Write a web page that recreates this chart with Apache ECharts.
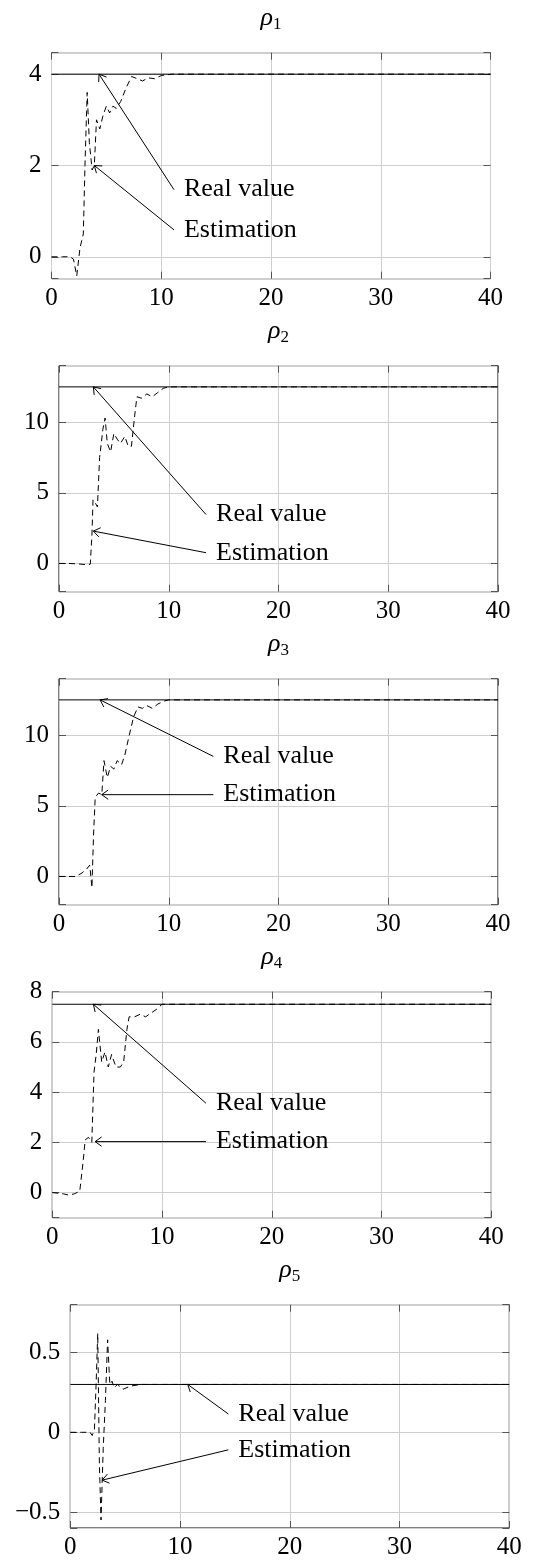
<!DOCTYPE html>
<html><head><meta charset="utf-8">
<script src="https://cdn.jsdelivr.net/npm/echarts@6/dist/echarts.min.js"></script>
<style>html,body{margin:0;padding:0;background:#fff}#c{width:540px;height:1560px}</style>
</head><body><div id="c"></div>
<script>
// ---------- data ----------
const subscripts = ['1', '2', '3', '4', '5'];
const realValues = [4, 12.5, 12.5, 7.5, 0.3];
const xRange = [0, 40];

const t1 = [0, 1.0, 1.7, 2.0, 2.3, 2.6, 2.9, 3.05, 3.25, 3.45, 3.7, 3.9, 4.1, 4.4, 4.7, 5.0, 5.3, 5.6, 5.9, 6.3, 6.8, 7.3, 7.8, 8.3, 8.8, 9.4, 10, 11, 12, 40];
const est1 = [0, 0, 0, -0.05, -0.42, 0.2, 0.5, 2.0, 3.6, 2.5, 1.9, 2.0, 3.0, 2.8, 3.1, 3.3, 3.15, 3.3, 3.25, 3.4, 3.7, 3.95, 3.9, 3.85, 3.92, 3.9, 3.97, 4.0, 4.0, 4.0];

const t2 = [0, 1, 2, 2.6, 2.85, 3.0, 3.1, 3.3, 3.5, 3.7, 4.0, 4.2, 4.4, 4.7, 5.0, 5.3, 5.6, 6.0, 6.3, 6.6, 6.9, 7.1, 7.5, 8.0, 8.5, 9.0, 9.5, 10, 40];
const est2 = [0, 0, -0.05, -0.1, -0.05, 2.0, 4.5, 4.3, 4.0, 7.5, 9.5, 10.3, 8.5, 7.9, 9.2, 8.8, 8.5, 9.0, 8.3, 8.3, 10.5, 11.8, 11.7, 12.0, 11.8, 12.1, 12.4, 12.5, 12.5];

const t3 = [0, 1.5, 2.0, 2.5, 2.8, 3.0, 3.15, 3.3, 3.6, 3.9, 4.1, 4.4, 4.7, 5.0, 5.3, 5.7, 6.0, 6.4, 6.8, 7.2, 7.6, 8.0, 8.5, 9.0, 9.5, 10, 40];
const est3 = [0, 0, 0.2, 0.5, 0.8, -0.8, 3.0, 5.6, 5.9, 5.8, 8.2, 7.0, 7.8, 7.6, 8.2, 7.9, 8.6, 10.0, 11.3, 12.0, 11.9, 12.1, 11.9, 12.2, 12.4, 12.5, 12.5];

const t4 = [0, 1.0, 1.5, 2.0, 2.5, 2.8, 3.0, 3.3, 3.6, 3.8, 4.0, 4.2, 4.5, 4.8, 5.1, 5.4, 5.8, 6.2, 6.5, 6.8, 7.0, 7.5, 8.0, 8.5, 9.0, 9.5, 10, 40];
const est4 = [0, -0.05, -0.1, -0.05, 0.05, 1.2, 2.1, 2.2, 2.0, 4.8, 5.5, 6.5, 5.2, 5.6, 5.0, 5.5, 5.0, 5.0, 5.2, 6.5, 7.0, 7.0, 7.1, 7.0, 7.15, 7.3, 7.5, 7.5];

const t5 = [0, 1.0, 1.8, 2.0, 2.2, 2.35, 2.5, 2.65, 2.8, 3.0, 3.2, 3.4, 3.6, 3.8, 4.0, 4.3, 4.8, 5.5, 6.5, 8, 40];
const est5 = [0, 0, 0, -0.02, 0.02, 0.3, 0.62, -0.2, -0.55, -0.1, 0.2, 0.58, 0.3, 0.32, 0.28, 0.3, 0.27, 0.29, 0.3, 0.3, 0.3];

// y-axis ranges and labelled tick step per panel
const yMins = [-0.48, -2, -2, -1, -0.6];
const yMaxs = [4.47, 14, 14, 8, 0.8];
const yTickSteps = [2, 5, 5, 2, 0.5];

// annotation labels and [textX, textY, targetX, targetY] in data coordinates
const annLabels = ['Real value', 'Estimation'];
const annReal = [[11.16, 1.47, 4.33, 4.0], [13.4, 3.46, 3.13, 12.5], [14.06, 8.5, 3.74, 12.5], [14.0, 3.56, 3.74, 7.5], [14.4, 0.115, 10.7, 0.3]];
const annEst = [[11.16, 0.59, 3.9, 2.0], [13.4, 0.76, 3.13, 2.29], [14.06, 5.79, 3.89, 5.79], [14.0, 2.03, 3.9, 2.03], [14.4, -0.11, 2.9, -0.3]];

const times = [t1, t2, t3, t4, t5];
const ests = [est1, est2, est3, est4, est5];

// ---------- layout ----------
const PW = 439, PH = 226;
const layout = [
  { left: 51.5, top: 52.7 },
  { left: 59, top: 365.7 },
  { left: 59, top: 678.7 },
  { left: 52.3, top: 991.7 },
  { left: 70.3, top: 1304.7 }
];
const SERIF = "'Liberation Serif', 'Times New Roman', serif";

const grids = [], xAxes = [], yAxes = [], series = [], graphics = [];
const tickStyle = { inside: true, length: 7, lineStyle: { color: '#555', width: 1 } };
const noLine = { show: false, onZero: false };

layout.forEach((L, i) => {
  const step = yTickSteps[i];
  const span = yMaxs[i] - yMins[i];
  const split = Math.round(span / step);
  const yfmt = v => {
    const k = v / step;
    if (Math.abs(k - Math.round(k)) > 1e-6) return '';
    return String(Math.round(k) * step).replace('-', '\u2212');
  };
  grids.push({ left: L.left, top: L.top, width: PW, height: PH, show: true, borderColor: '#000', borderWidth: 1, backgroundColor: 'transparent' });
  xAxes.push({
    type: 'value', gridIndex: i, min: xRange[0], max: xRange[1], interval: 10, position: 'bottom',
    axisLine: noLine, axisTick: tickStyle,
    axisLabel: { color: '#000', fontFamily: SERIF, fontSize: 25, margin: 7, showMinLabel: true, showMaxLabel: true },
    splitLine: { show: true, lineStyle: { color: '#cfcfcf', width: 1 } }
  });
  xAxes.push({
    type: 'value', gridIndex: i, min: xRange[0], max: xRange[1], interval: 10, position: 'top',
    axisLine: noLine, axisTick: tickStyle, axisLabel: { show: false }, splitLine: { show: false }
  });
  yAxes.push({
    type: 'value', gridIndex: i, min: yMins[i], max: yMaxs[i], splitNumber: split, position: 'left',
    axisLine: noLine, axisTick: tickStyle,
    axisLabel: { color: '#000', fontFamily: SERIF, fontSize: 25, margin: 10, showMinLabel: true, showMaxLabel: true, formatter: yfmt },
    splitLine: { show: true, lineStyle: { color: '#cfcfcf', width: 1 } }
  });
  yAxes.push({
    type: 'value', gridIndex: i, min: yMins[i], max: yMaxs[i], splitNumber: split, position: 'right',
    axisLine: noLine, axisTick: tickStyle, axisLabel: { show: false }, splitLine: { show: false }
  });

  const xi = 2 * i, yi = 2 * i;
  series.push({
    type: 'line', xAxisIndex: xi, yAxisIndex: yi, symbol: 'none', silent: true, z: 3,
    data: [[xRange[0], realValues[i]], [xRange[1], realValues[i]]],
    lineStyle: { color: '#000', width: 1 }
  });
  series.push({
    type: 'line', xAxisIndex: xi, yAxisIndex: yi, symbol: 'none', silent: true, clip: false, z: 4,
    data: times[i].map((t, k) => [t, ests[i][k]]),
    lineStyle: { color: '#000', width: 1, type: [6, 4] }
  });
  series.push({
    type: 'custom', xAxisIndex: xi, yAxisIndex: yi, silent: true, z: 5, clip: false,
    data: [annReal[i], annEst[i]],
    renderItem: function (params, api) {
      const p0 = api.coord([api.value(0), api.value(1)]);
      const p1 = api.coord([api.value(2), api.value(3)]);
      const dx = p1[0] - p0[0], dy = p1[1] - p0[1];
      const len = Math.hypot(dx, dy) || 1;
      const bx = -dx / len, by = -dy / len;
      const a = 0.62, h = 8;
      const r = (ang) => [bx * Math.cos(ang) - by * Math.sin(ang), bx * Math.sin(ang) + by * Math.cos(ang)];
      const w1 = r(a), w2 = r(-a);
      return {
        type: 'group', children: [
          { type: 'line', shape: { x1: p0[0], y1: p0[1], x2: p1[0], y2: p1[1] }, style: { stroke: '#000', lineWidth: 1 } },
          { type: 'polyline', shape: { points: [[p1[0] + w1[0] * h, p1[1] + w1[1] * h], [p1[0], p1[1]], [p1[0] + w2[0] * h, p1[1] + w2[1] * h]] }, style: { stroke: '#000', fill: null, lineWidth: 1 } },
          { type: 'text', x: p0[0] + 10, y: p0[1], style: { text: annLabels[params.dataIndex], fill: '#000', fontFamily: SERIF, fontSize: 26, align: 'left', verticalAlign: 'middle' } }
        ]
      };
    }
  });

  graphics.push({
    type: 'text', x: L.left + PW / 2, y: L.top - 35,
    style: {
      text: '{r|ρ}{s|' + subscripts[i] + '}', align: 'center', verticalAlign: 'middle',
      rich: {
        r: { fontFamily: SERIF, fontStyle: 'italic', fontSize: 26, fill: '#000', lineHeight: 30, verticalAlign: 'middle' },
        s: { fontFamily: SERIF, fontSize: 17, fill: '#000', lineHeight: 16, verticalAlign: 'bottom' }
      }
    }
  });
});

const chart = echarts.init(document.getElementById('c'));
chart.setOption({
  animation: false,
  backgroundColor: '#fff',
  grid: grids, xAxis: xAxes, yAxis: yAxes, series: series, graphic: graphics
});
</script></body></html>
